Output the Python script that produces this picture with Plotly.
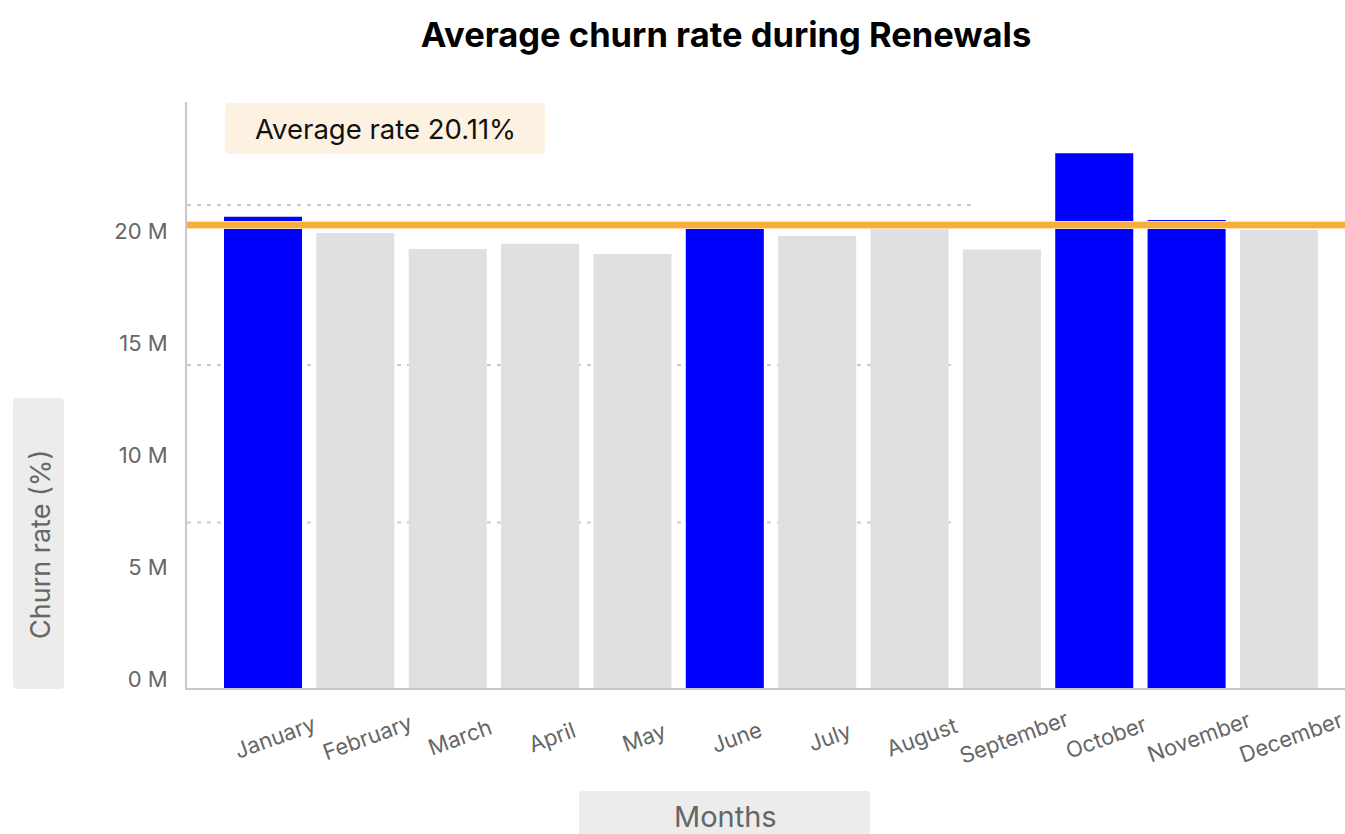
import plotly.graph_objects as go

# ---------------- data ----------------
months = ["January", "February", "March", "April", "May", "June",
          "July", "August", "September", "October", "November", "December"]
churn = [21.04, 20.31, 19.60, 19.83, 19.38, 20.54,
         20.18, 20.54, 19.58, 23.87, 20.89, 20.45]
highlight = [True, False, False, False, False, True,
             False, False, False, True, True, False]
avg_line_value = 20.67
avg_label = "Average rate 20.11%"
y_tick_vals = [0, 5, 10, 15, 20]
y_tick_text = ["0 M", "5 M", "10 M", "15 M", "20 M"]
grid_y = [21.56, 14.42, 7.39]

# ---------------- layout geometry (pixels) ----------------
W, H = 1345, 834
L, R, T, B = 187, 1345, 102, 688
PW, PH = R - L, B - T

def px2x(px):
    return (px - L) / PW

def px2y(py):
    return (B - py) / PH

def rounded_rect(x0, y0, x1, y1, r):
    def P(x, y):
        return f"{px2x(x):.5f},{px2y(y):.5f}"
    return (f"M {P(x0 + r, y0)} L {P(x1 - r, y0)} Q {P(x1, y0)} {P(x1, y0 + r)} "
            f"L {P(x1, y1 - r)} Q {P(x1, y1)} {P(x1 - r, y1)} "
            f"L {P(x0 + r, y1)} Q {P(x0, y1)} {P(x0, y1 - r)} "
            f"L {P(x0, y0 + r)} Q {P(x0, y0)} {P(x0 + r, y0)} Z")

FONT = "Inter"
BLUE = "#0000ff"
GREY = "#e0e0e0"
TXT = "#666666"

colors = [BLUE if h else GREY for h in highlight]

fig = go.Figure()
fig.add_trace(go.Bar(
    x=months, y=churn, marker=dict(color=colors, line=dict(width=0)),
    hoverinfo="x+y", showlegend=False,
))

shapes = []
# dotted grid lines (behind bars)
grid_end = [px2x(973), px2x(957), px2x(957)]
for gy, xe in zip(grid_y, grid_end):
    shapes.append(dict(type="line", xref="paper", yref="y", x0=0, x1=xe,
                       y0=gy, y1=gy, layer="below",
                       line=dict(color="#cccccc", width=2, dash="4px,6px")))
# average line
shapes.append(dict(type="line", xref="paper", yref="y", x0=0, x1=1,
                   y0=avg_line_value, y1=avg_line_value, layer="above",
                   line=dict(color="#fde0b0", width=8)))
shapes.append(dict(type="line", xref="paper", yref="y", x0=0, x1=1,
                   y0=avg_line_value, y1=avg_line_value, layer="above",
                   line=dict(color="#f9ad3b", width=6)))
# label backgrounds
shapes.append(dict(type="path", xref="paper", yref="paper",
                   path=rounded_rect(225, 103, 545, 154, 4),
                   fillcolor="#fdf1e1", line=dict(width=0), layer="above"))
shapes.append(dict(type="path", xref="paper", yref="paper",
                   path=rounded_rect(13, 398, 64, 689, 4),
                   fillcolor="#ececec", line=dict(width=0), layer="above"))
shapes.append(dict(type="path", xref="paper", yref="paper",
                   path=rounded_rect(579, 791, 870, 850, 4),
                   fillcolor="#ececec", line=dict(width=0), layer="above"))

annotations = []
annotations.append(dict(text=avg_label, xref="paper", yref="paper",
                        x=px2x(385), y=px2y(129), xanchor="center", yanchor="middle",
                        showarrow=False, font=dict(family=FONT, size=27.5, color="#111111")))
annotations.append(dict(text="Churn rate (%)", xref="paper", yref="paper",
                        x=px2x(40), y=px2y(545), xanchor="center", yanchor="middle",
                        textangle=-90, showarrow=False,
                        font=dict(family=FONT, size=27, color=TXT)))
annotations.append(dict(text="Months", xref="paper", yref="paper",
                        x=px2x(725), y=px2y(816), xanchor="center", yanchor="middle",
                        showarrow=False, font=dict(family=FONT, size=29, color=TXT)))
for m in months:
    annotations.append(dict(text=m, xref="x", yref="paper", x=m, y=px2y(737),
                            xshift=12, xanchor="center", yanchor="middle",
                            textangle=-20, showarrow=False,
                            font=dict(family=FONT, size=22, color=TXT)))

fig.update_layout(
    width=W, height=H,
    margin=dict(l=L, r=W - R, t=T, b=H - B, pad=0),
    paper_bgcolor="white", plot_bgcolor="white",
    bargap=0.155,
    title=dict(text="<b>Average churn rate during Renewals</b>",
               xref="paper", x=px2x(726), xanchor="center",
               yref="container", y=1 - 35 / H, yanchor="middle",
               font=dict(family=FONT, size=34.5, color="#000000")),
    xaxis=dict(type="category", range=[-0.823, 11.715], showticklabels=False,
               showgrid=False, zeroline=False, showline=True,
               linecolor="#c8c8c8", linewidth=2, ticks="", fixedrange=True),
    yaxis=dict(range=[0, PH / 22.4], tickvals=y_tick_vals, ticktext=y_tick_text,
               showgrid=False, zeroline=False, showline=True,
               linecolor="#c8c8c8", linewidth=2, ticks="",
               ticklabelstandoff=13, ticklabelshift=-9,
               tickfont=dict(family=FONT, size=22, color=TXT)),
    shapes=shapes, annotations=annotations,
    font=dict(family=FONT),
)

fig.write_html("out.html", config={"displayModeBar": False},
               post_script="document.body.style.margin='0';")
